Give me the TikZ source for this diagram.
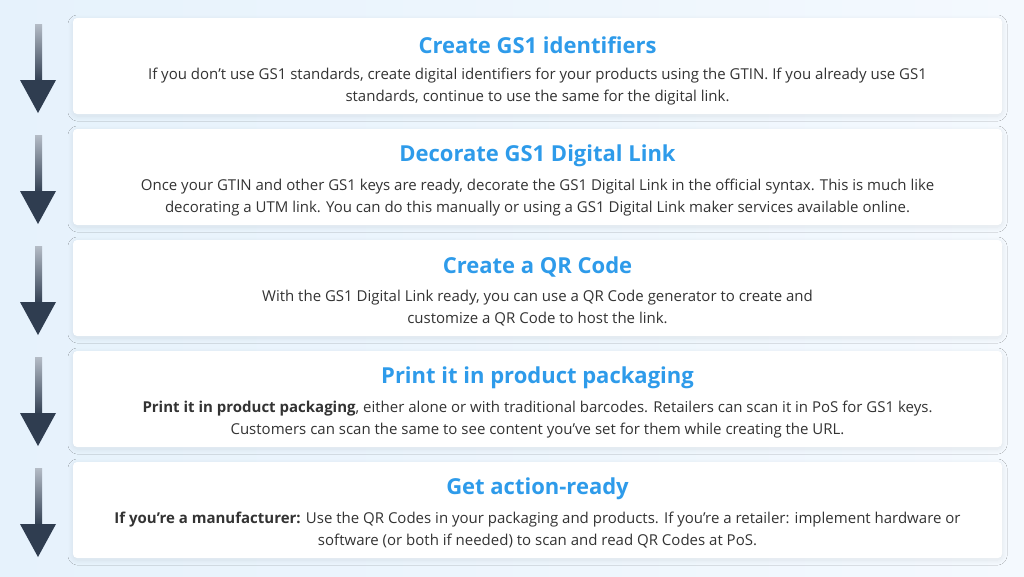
\documentclass[tikz,border=0pt]{standalone}
\usepackage{fontspec}
\setmainfont{Open Sans}
\usetikzlibrary{shadows.blur}
\definecolor{bgL}{HTML}{E6F2FC}
\definecolor{bgR}{HTML}{F4F9FE}
\definecolor{ttl}{HTML}{2E9BEA}
\definecolor{bodytxt}{HTML}{333333}
\definecolor{arrdark}{HTML}{2F3D50}
\definecolor{arrlight}{HTML}{B4BCC6}
\tikzset{
  card/.style={fill=white, rounded corners=4pt, minimum width=929pt, minimum height=96pt, inner sep=0pt,
    blur shadow={shadow xshift=0pt, shadow yshift=-2pt, shadow blur steps=10, shadow opacity=8, shadow blur radius=5pt}},
  ttlstyle/.style={font=\fontsize{22}{26}\selectfont\bfseries, text=ttl, inner sep=0pt},
  bodystyle/.style={font=\fontsize{15}{22}\selectfont, text=bodytxt, align=center, inner sep=0pt},
}
\newcommand{\arrowat}[1]{%
  \shade[top color=arrlight, bottom color=arrdark] (35,#1+6) rectangle (42,#1+64);
  \fill[arrdark] (20,#1+62) -- (56,#1+62) -- (38,#1+95) -- cycle;
}
\begin{document}
\begin{tikzpicture}[x=1pt,y=-1pt]
\useasboundingbox (0,0) rectangle (1024,576);
\shade[left color=bgL, right color=bgR] (0,0) rectangle (1024,576);
\foreach \t in {18,129,240,351,462} {\arrowat{\t}}
\node[card] (b1) at (537.5,66) {};
\node[card] (b2) at (537.5,177) {};
\node[card] (b3) at (537.5,288) {};
\node[card] (b4) at (537.5,399) {};
\node[card] (b5) at (537.5,510) {};
\node[ttlstyle] (t1) at (537.5,45) {Create GS1 identifiers};
\node[bodystyle] (d1) at (537.5,86.5) {If you don’t use GS1 standards, create digital identifiers for your products using the GTIN. If you already use GS1\\standards, continue to use the same for the digital link.};
\node[ttlstyle] (t2) at (537.5,156) {Decorate GS1 Digital Link};
\node[bodystyle] (d2) at (537.5,197.5) {Once your GTIN and other GS1 keys are ready, decorate the GS1 Digital Link in the official syntax. This is much like\\decorating a UTM link. You can do this manually or using a GS1 Digital Link maker services available online.};
\node[ttlstyle] (t3) at (537.5,267) {Create a QR Code};
\node[bodystyle] (d3) at (537.5,308.5) {With the GS1 Digital Link ready, you can use a QR Code generator to create and\\customize a QR Code to host the link.};
\node[ttlstyle] (t4) at (537.5,378) {Print it in product packaging};
\node[bodystyle] (d4) at (537.5,419.5) {\textbf{Print it in product packaging}, either alone or with traditional barcodes. Retailers can scan it in PoS for GS1 keys.\\Customers can scan the same to see content you’ve set for them while creating the URL.};
\node[ttlstyle] (t5) at (537.5,489) {Get action-ready};
\node[bodystyle] (d5) at (537.5,530.5) {\textbf{If you’re a manufacturer:} Use the QR Codes in your packaging and products. If you’re a retailer: implement hardware or\\software (or both if needed) to scan and read QR Codes at PoS.};
\end{tikzpicture}
\end{document}
